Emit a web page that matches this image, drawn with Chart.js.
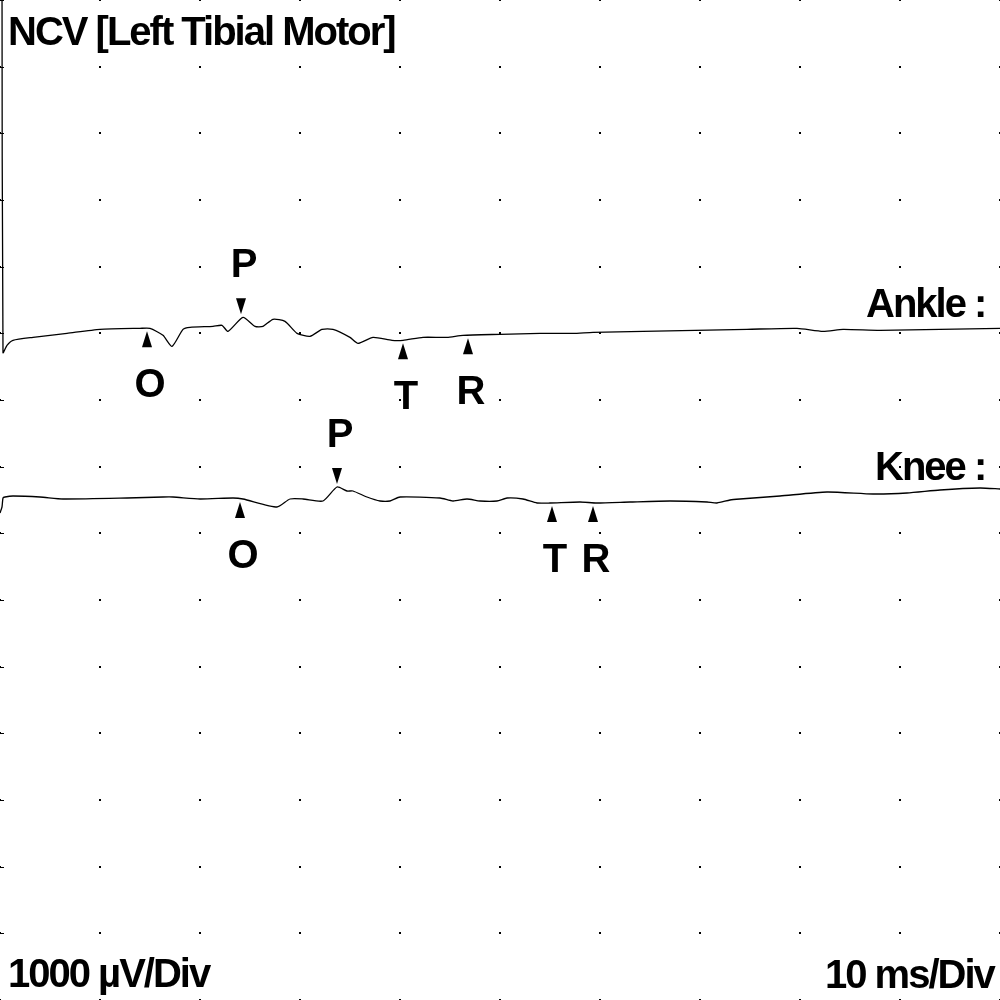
<!DOCTYPE html>
<html>
<head>
<meta charset="utf-8">
<script src="https://cdn.jsdelivr.net/npm/chart.js@4.4.1/dist/chart.umd.min.js"></script>
<style>
  html, body { margin: 0; padding: 0; background: #fff; }
  canvas { display: block; }
</style>
</head>
<body>
<canvas id="ncv" width="1000" height="1000"></canvas>
<script>
// time in ms (10 ms/div), amplitude in uV (1000 uV/div)
const ankleMs = [0.2, 0.3, 0.7, 1.3, 3.3, 6.7, 10, 14, 15, 16.3, 17.2, 18.3, 19, 21.3, 22.2, 22.8, 24.3, 25.5, 26.3, 27.3, 28.5, 29.7, 31, 32.2, 33.3, 35, 35.8, 37.3, 39.2, 40.3, 42.3, 44.7, 46.3, 50, 54, 57.3, 59.3, 64.3, 74.7, 79.7, 82.3, 84.3, 88, 100];
const ankleUv = [5500, -290, -180, -105, -60, 0, 60, 75, 75, -30, -195, 60, 90, 105, 120, 30, 240, 105, 105, 210, 180, 0, -45, 60, 60, -60, -150, -60, -105, -105, -60, -60, -30, -15, 0, 0, 15, 30, 60, 75, 30, 60, 45, 75];

const kneeMs = [0, 0.2, 0.3, 0.5, 1.3, 4, 6.3, 12.7, 16.3, 17.3, 20, 23.3, 24.3, 27.7, 29, 30.3, 32.3, 33.7, 34.7, 35.3, 36.7, 38, 39, 40, 44, 45.3, 46.7, 48, 49.7, 50.7, 52.3, 53.7, 55, 58, 59.7, 63, 67, 70.7, 71.7, 73, 74, 78, 82.7, 87.3, 90.7, 94, 98, 100];
const kneeUv = [-195, -105, 30, 45, 60, 45, 15, 30, 45, 45, 15, 30, 15, -105, 15, 15, -15, 195, 135, 135, 45, -15, -15, 45, 30, -15, 15, -15, -15, 30, 15, -45, -45, -30, -45, -30, -15, -30, -45, 0, 15, 60, 120, 90, 105, 150, 180, 165];

// baseline of each trace on the screen (uV from the bottom edge)
const ankleOffset = 10000;
const kneeOffset = 7500;

// cursors: O onset, P peak, T, R
const markLabels = ['O', 'P', 'T', 'R'];
const ankleMarkMs = [14.7, 24.1, 40.3, 46.8];
const ankleMarkUv = [75, 240, -105, -30];
const kneeMarkMs = [24.0, 33.7, 55.2, 59.3];
const kneeMarkUv = [15, 195, -45, -45];

// grid divisions
const gridMs = [0, 10, 20, 30, 40, 50, 60, 70, 80, 90, 100];
const gridUv = [0, 1000, 2000, 3000, 4000, 5000, 6000, 7000, 8000, 9000, 10000, 11000, 12000, 13000, 14000, 15000];

const traceNames = ['Ankle :', 'Knee :'];
const title = 'NCV [Left Tibial Motor]';
const ampLabel = '1000 \u00b5V/Div';
const timeLabel = '10 ms/Div';

const FONT = 'bold 40px "Liberation Sans", Arial, sans-serif';

const toPoints = (xs, ys, off) => xs.map((x, i) => ({ x: x, y: ys[i] + off }));

const scopePlugin = {
  id: 'scope',
  beforeDatasetsDraw(chart) {
    const ctx = chart.ctx;
    const xs = chart.scales.x, ys = chart.scales.y;
    ctx.save();
    ctx.fillStyle = '#000';
    gridUv.forEach(v => {
      const py = Math.round(ys.getPixelForValue(v));
      gridMs.forEach(m => {
        const px = Math.round(xs.getPixelForValue(m));
        ctx.fillRect(px - 1, py - 1, 2, 2);
      });
      ctx.fillRect(0, py, 4, 1); // left axis ticks
    });
    ctx.restore();
  },
  afterDatasetsDraw(chart) {
    const ctx = chart.ctx;
    const xs = chart.scales.x, ys = chart.scales.y;
    ctx.save();
    ctx.fillStyle = '#000';
    ctx.font = FONT;
    ctx.letterSpacing = '-2px';
    ctx.textBaseline = 'alphabetic';

    const drawMarks = (ms, uv, off) => {
      ms.forEach((m, i) => {
        const px = xs.getPixelForValue(m);
        const py = ys.getPixelForValue(uv[i] + off);
        const down = markLabels[i] === 'P';
        const d = down ? -1 : 1;
        ctx.beginPath();
        ctx.moveTo(px, py + d * 3);
        ctx.lineTo(px - 5, py + d * 19);
        ctx.lineTo(px + 5, py + d * 19);
        ctx.closePath();
        ctx.fill();
        ctx.textAlign = 'center';
        ctx.fillText(markLabels[i], px + 2, down ? py - 40 : py + 69);
      });
    };
    drawMarks(ankleMarkMs, ankleMarkUv, ankleOffset);
    drawMarks(kneeMarkMs, kneeMarkUv, kneeOffset);

    ctx.textAlign = 'left';
    ctx.fillText(title, 8, 45);
    ctx.fillText(traceNames[0], 866, 317);
    ctx.fillText(traceNames[1], 875, 480);
    ctx.fillText(ampLabel, 8, 987);
    ctx.fillText(timeLabel, 825, 988);
    ctx.restore();
  }
};

new Chart(document.getElementById('ncv'), {
  type: 'line',
  data: {
    datasets: [
      {
        label: 'Ankle',
        data: toPoints(ankleMs, ankleUv, ankleOffset),
        borderColor: '#000',
        borderWidth: 1.3,
        pointRadius: 0,
        tension: 0.2
      },
      {
        label: 'Knee',
        data: toPoints(kneeMs, kneeUv, kneeOffset),
        borderColor: '#000',
        borderWidth: 1.3,
        pointRadius: 0,
        tension: 0.2
      }
    ]
  },
  options: {
    responsive: false,
    animation: false,
    devicePixelRatio: 1,
    layout: { padding: 0 },
    plugins: { legend: { display: false }, tooltip: { enabled: false } },
    scales: {
      x: { type: 'linear', min: 0, max: 100, display: false },
      y: { type: 'linear', min: 0, max: 15000, display: false }
    }
  },
  plugins: [scopePlugin]
});
</script>
</body>
</html>
